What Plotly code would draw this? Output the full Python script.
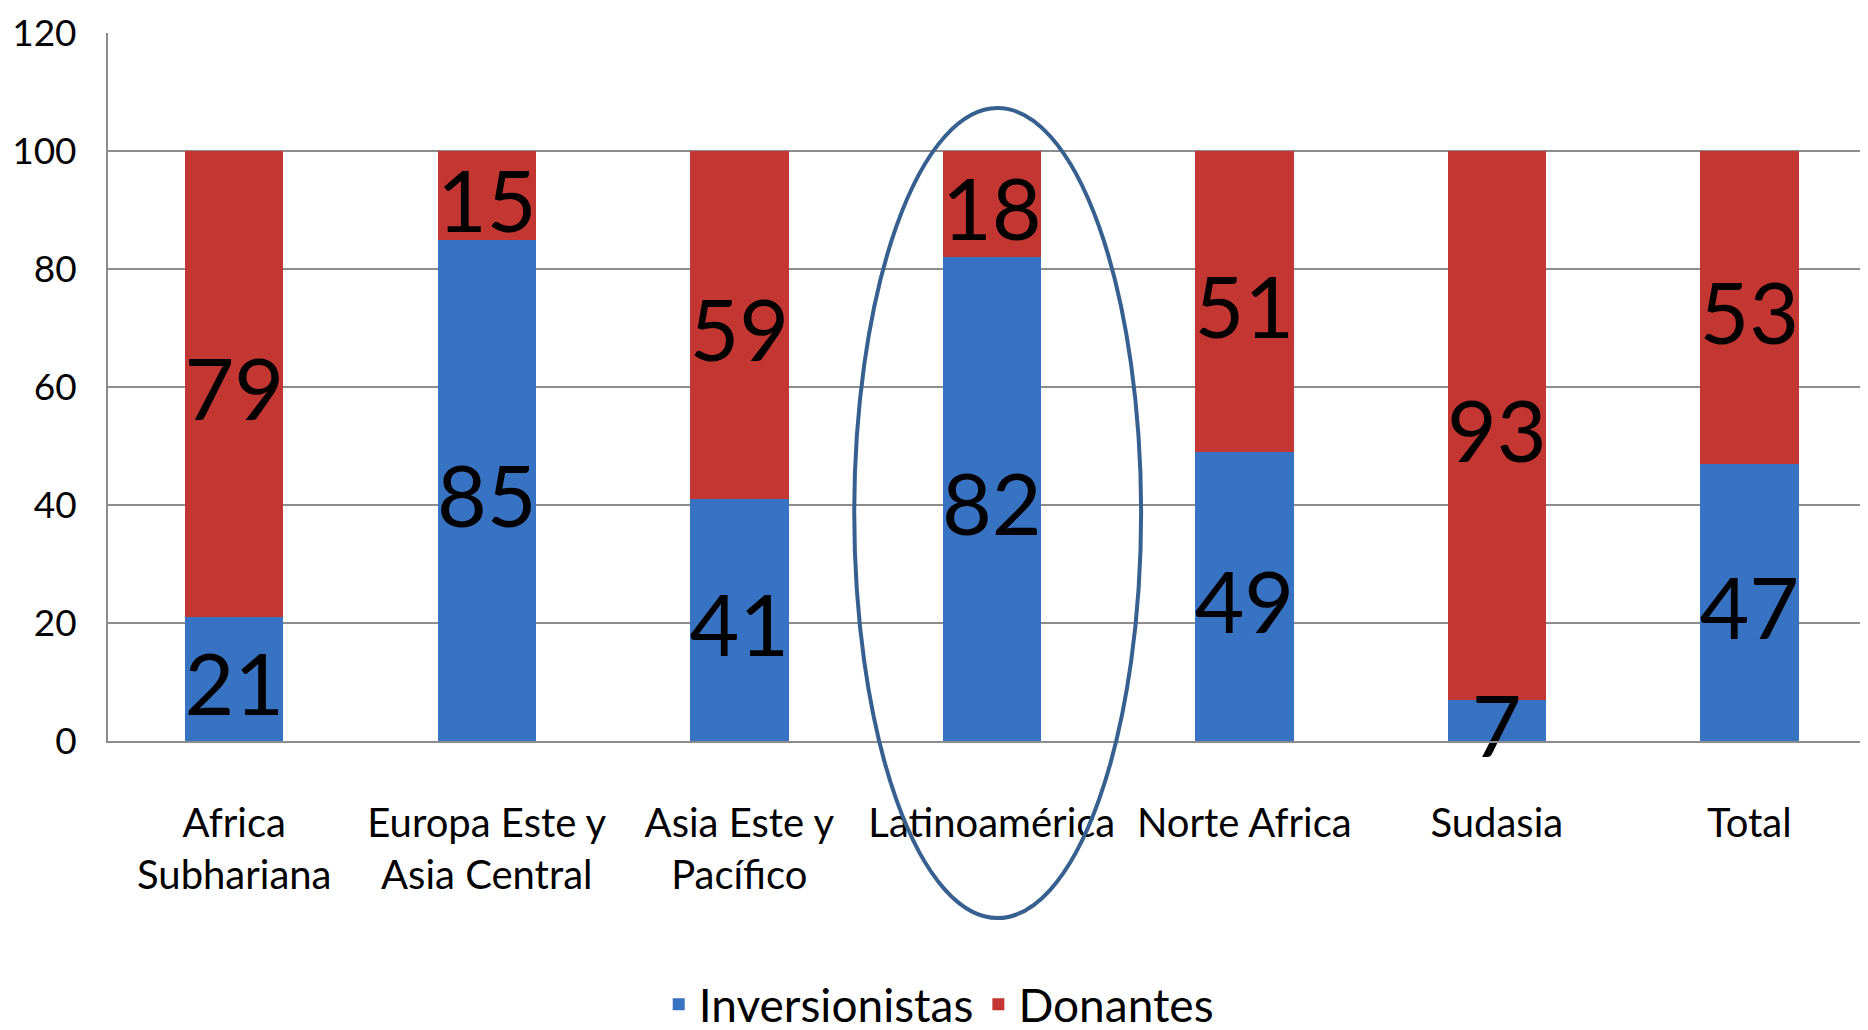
import plotly.graph_objects as go

# Datos del gráfico
regiones = [
    "Africa<br>Subhariana",
    "Europa Este y<br>Asia Central",
    "Asia Este y<br>Pacífico",
    "Latinoamérica",
    "Norte Africa",
    "Sudasia",
    "Total",
]
inversionistas = [21, 85, 41, 82, 49, 7, 47]
donantes = [79, 15, 59, 18, 51, 93, 53]
y_ticks = [0, 20, 40, 60, 80, 100, 120]

FUENTE = "Lato, Open Sans, sans-serif"
AZUL = "#3872c2"
ROJO = "#c43632"

fig = go.Figure()

for nombre, valores, color in [
    ("Inversionistas", inversionistas, AZUL),
    ("Donantes", donantes, ROJO),
]:
    fig.add_trace(go.Bar(
        x=regiones,
        y=valores,
        name=nombre,
        marker=dict(color=color, line=dict(width=0)),
        width=0.39,
    ))

# Etiquetas de valor por encima de todas las barras (centradas en cada segmento;
# se bajan un poco porque los dígitos no tienen descendentes)
AJUSTE = 2.5
centros_inv = [v / 2 - AJUSTE for v in inversionistas]
centros_don = [i + d / 2 - AJUSTE for i, d in zip(inversionistas, donantes)]
for centros, valores in [(centros_inv, inversionistas), (centros_don, donantes)]:
    fig.add_trace(go.Scatter(
        x=regiones,
        y=centros,
        mode="text",
        text=[str(v) for v in valores],
        textposition="middle center",
        textfont=dict(family=FUENTE, size=86, color="black"),
        showlegend=False,
        hoverinfo="skip",
        cliponaxis=False,
    ))

# Elipse que resalta Latinoamérica
fig.add_shape(
    type="circle",
    xref="paper", yref="paper",
    x0=0.424, x1=0.587, y0=-0.250, y1=0.894,
    line=dict(color="#36608f", width=4),
)

# La página tiene un margen de 8 px: se compensa en los márgenes
fig.update_layout(
    barmode="stack",
    width=1868,
    height=1030,
    paper_bgcolor="white",
    plot_bgcolor="white",
    font=dict(family=FUENTE, color="black"),
    margin=dict(l=100, r=8, t=25, b=297, autoexpand=False),
    showlegend=True,
    legend=dict(
        orientation="h",
        traceorder="normal",
        x=0.472, xanchor="center",
        y=-0.372, yanchor="middle",
        font=dict(size=46, family=FUENTE),
    ),
)

fig.update_yaxes(
    range=[0, 120],
    tickvals=y_ticks,
    tickfont=dict(size=37),
    showgrid=True,
    gridcolor="#8c8c8c",
    gridwidth=2,
    zeroline=False,
    showline=True,
    linecolor="#8c8c8c",
    linewidth=2,
    ticks="",
    ticklabelstandoff=22,
)

fig.update_xaxes(
    range=[-0.5, 6.47],
    tickfont=dict(size=40),
    tickangle=0,
    showline=True,
    linecolor="#8c8c8c",
    linewidth=2,
    ticks="",
    ticklabelstandoff=46,
)

fig.write_html("out.html")
